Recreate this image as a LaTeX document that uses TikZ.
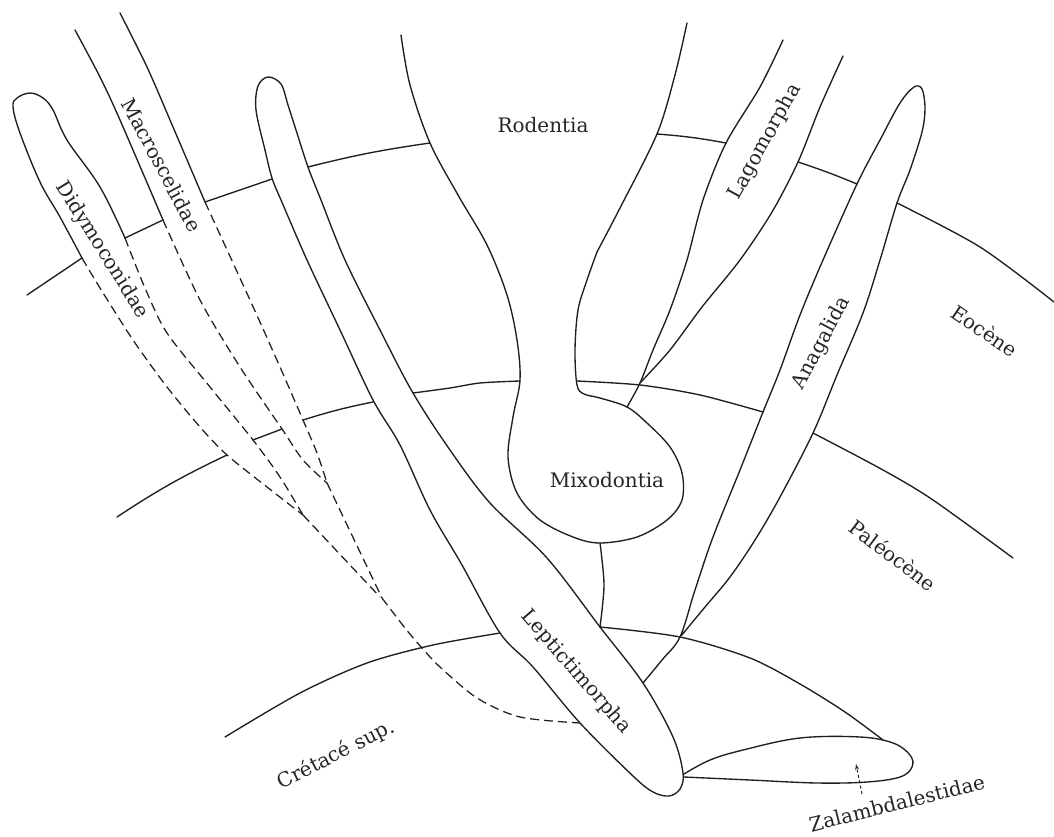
\documentclass[tikz,border=0pt]{standalone}
\usepackage{fontspec}
\setmainfont{DejaVu Serif}
\usetikzlibrary{arrows.meta}
\begin{document}
\begin{tikzpicture}[x=1pt,y=-1pt,
  ln/.style={line width=1.35pt, line join=round, line cap=round, draw=black!88},
  dsh/.style={line width=1.25pt, dash pattern=on 9pt off 5pt, draw=black!88},
  lbl/.style={font=\fontsize{20}{24}\selectfont, inner sep=0pt, text=black!85}]
\useasboundingbox[fill=white] (0,0) rectangle (1054,837);

% ---------- Didymoconidae balloon ----------
\draw[ln] plot[smooth, tension=0.6] coordinates {(82,258) (60,217) (40,182) (20,133) (13,107) (17,98) (30,93) (43,98) (53,110) (67,140) (100,187) (125,238)};
% ---------- Macroscelidae band ----------
\draw[ln] plot[smooth] coordinates {(75,30) (100,77) (120,120) (163,220)};
\draw[ln] plot[smooth] coordinates {(120,13) (147,67) (173,127) (205,202)};

% ---------- Leptictimorpha balloon ----------
\draw[ln] plot[smooth cycle, tension=0.55] coordinates {(268,77) (281,84) (288,105) (296,130) (308,167) (321,200) (345,260) (380,330) (413,393) (450,450) (490,503) (547,558) (600,627) (643,683) (673,737) (683,773) (680,789) (669,796) (653,792) (633,776) (580,723) (533,667) (500,633) (462,565) (430,510) (400,445) (373,400) (340,330) (307,260) (281,200) (272,178) (265,150) (256,110) (258,86)};

% ---------- Rodentia + Mixodontia ----------
\draw[ln] plot[smooth, tension=0.55] coordinates {(401,35) (410,85) (430,143) (458,195) (487,245) (507,295) (517,340) (520,380) (513,417) (508,457) (517,493) (540,520) (573,537) (600,543) (637,537) (667,520) (682,500) (682,473) (670,447) (647,423) (627,407) (600,398) (584,394) (577,385) (575,350) (578,310) (587,280) (597,252)};
\draw[ln] plot[smooth] coordinates {(597,252) (620,208) (657,134) (675,75) (687,23)};
\draw[ln] plot[smooth] coordinates {(600,543) (604,585) (600,627)};

% ---------- Lagomorpha ----------
\draw[ln] plot[smooth] coordinates {(783,40) (760,87) (726,143) (703,200) (687,260) (670,310) (653,350) (640,383) (627,407)};
\draw[ln] plot[smooth] coordinates {(843,56) (820,107) (798,162) (772,212) (740,260) (702,307) (670,350) (640,383)};

% ---------- Anagalida ----------
\draw[ln] plot[smooth, tension=0.55] coordinates {(643,683) (662,660) (680,637) (695,590) (713,537) (740,470) (763,412) (780,370) (800,315) (823,260) (857,184) (880,140) (900,103) (914,87) (922,89) (925,108) (922,132) (910,170) (897,203) (880,260) (863,313) (837,375) (813,433) (780,497) (755,540) (730,577) (705,607) (681,636)};

% ---------- Zalambdalestidae ----------
\draw[ln] plot[smooth, tension=0.6] coordinates {(684,774) (710,760) (743,750) (800,738) (860,737) (893,743) (910,755) (912,767) (900,777) (867,782) (817,783) (750,780) (684,777)};
\draw[line width=1pt, dash pattern=on 3pt off 2.5pt, draw=black!85, -{Stealth[length=6pt,width=4pt]}] (862,794) -- (856,764);

% ---------- boundary 1 ----------
\draw[ln] (27,295) -- (82,258);
\draw[ln] (125,238) -- (163,220);
\draw[ln] (205,202) -- (272,179);
\draw[ln] (308,167) to[bend left=3] (430,143);
\draw[ln] (657,134) to[bend left=3] (726,143);
\draw[ln] (798,162) to[bend left=2] (857,184);
\draw[ln] plot[smooth] coordinates {(897,203) (980,247) (1054,302)};

% ---------- boundary 2 ----------
\draw[ln] (117,517) to[bend left=4] (227,455);
\draw[ln] (253,440) -- (282,429);
\draw[ln] (303,420) to[bend left=3] (373,402);
\draw[ln] plot[smooth] coordinates {(413,393) (450,388) (480,383) (520,381)};
\draw[ln] plot[smooth] coordinates {(577,381) (640,385) (700,395) (763,412)};
\draw[ln] plot[smooth] coordinates {(813,433) (883,470) (933,500) (1013,558)};

% ---------- boundary 3 ----------
\draw[ln] plot[smooth] coordinates {(225,737) (300,693) (367,663) (433,645) (500,633)};
\draw[ln] plot[smooth] coordinates {(600,627) (680,637) (750,658) (800,684) (845,712) (883,740)};

% ---------- dashed lineages ----------
\draw[dsh] plot[smooth] coordinates {(82,258) (100,288) (133,340) (167,387) (200,427) (227,455) (267,487) (303,515)};
\draw[dsh] plot[smooth] coordinates {(125,238) (145,288) (167,333) (210,387) (253,440) (280,477) (303,515)};
\draw[dsh] plot[smooth] coordinates {(163,220) (200,300) (240,367) (282,429) (303,460) (327,483)};
\draw[dsh] plot[smooth] coordinates {(205,202) (250,300) (280,367) (303,420) (317,453) (327,483)};
\draw[dsh] (303,515) -- (380,597);
\draw[dsh] (327,483) -- (382,598);
\draw[dsh] plot[smooth] coordinates {(382,598) (405,628) (422,648) (440,667) (477,698) (520,717) (580,723)};

% ---------- labels ----------
\node[lbl, rotate=-58] (didy) at (102,250) {Didymoconidae};
\node[lbl, rotate=-62] (macro) at (162,165) {Macroscelidae};
\node[lbl] (rod) at (543,125) {Rodentia};
\node[lbl, rotate=61] (lago) at (765,142) {Lagomorpha};
\node[lbl, rotate=62] (ana) at (822,343) {Anagalida};
\node[lbl] (mixo) at (607,480) {Mixodontia};
\node[lbl, rotate=-49] (lepto) at (576,672) {Leptictimorpha};
\node[lbl, rotate=-34] (eoc) at (985,331) {Eocène};
\node[lbl, rotate=-37] (pal) at (893,555) {Paléocène};
\node[lbl, rotate=27] (cret) at (336,755) {Crétacé sup.};
\node[lbl, rotate=14] (zal) at (897,803) {Zalambdalestidae};
\end{tikzpicture}
\end{document}
